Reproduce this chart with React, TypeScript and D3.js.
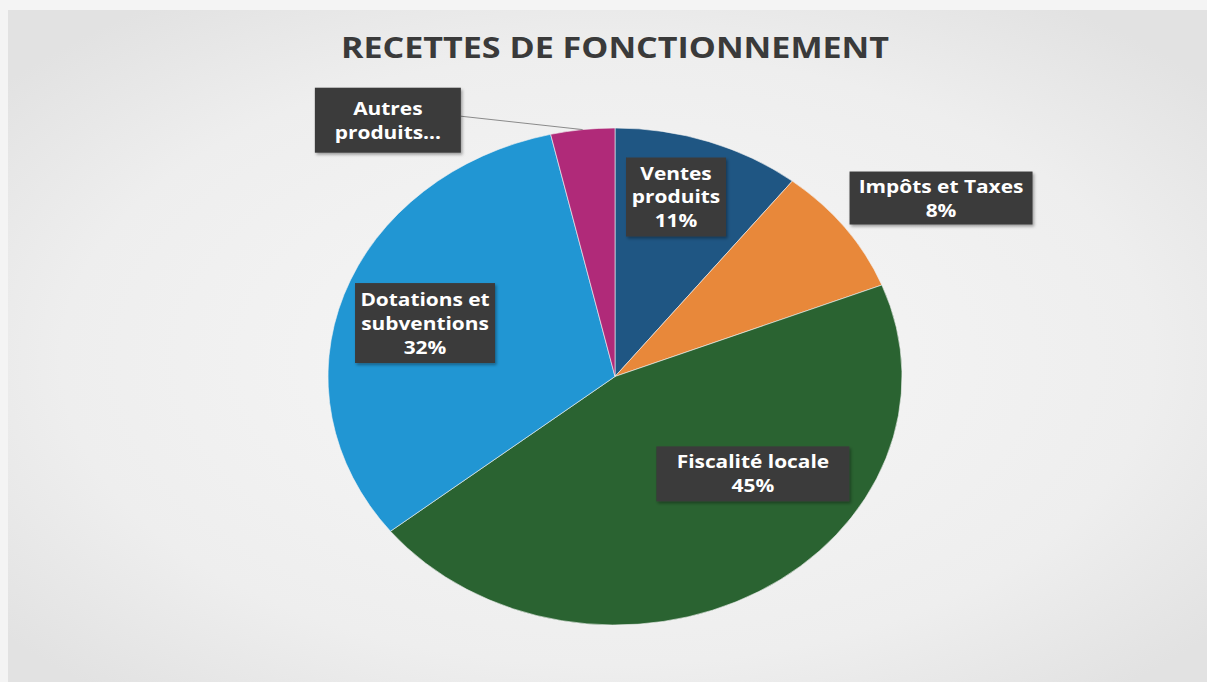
import React, { useEffect, useRef } from "react";
import * as d3 from "d3";

const categories = ["Ventes produits", "Impôts et Taxes", "Fiscalité locale", "Dotations et subventions", "Autres produits"];
const values = [10.6, 8.4, 45.3, 32.1, 3.6];
const labelNameLines = [
  ["Ventes", "produits"],
  ["Impôts et Taxes"],
  ["Fiscalité locale"],
  ["Dotations et", "subventions"],
  ["Autres", "produits..."],
];
const showPercent = [true, true, true, true, false];
const colors = ["#1f5683", "#e8883a", "#2a6331", "#2196d3", "#b02a79"];
const title = "RECETTES DE FONCTIONNEMENT";

// layout (label placement in normalized ellipse polar coords: degrees clockwise from top, radius fraction)
const labelLayout = [
  { angle: 16.4, r: 0.753, w: 100, h: 79 },
  { angle: 57.7, r: 1.344, w: 183, h: 53 },
  { angle: 129.2, r: 0.62, w: 193, h: 55 },
  { angle: 288, r: 0.696, w: 140, h: 80 },
  { angle: 322.5, r: 1.3, w: 146, h: 65, leader: true },
];

const W = 1207, H = 682;
const CX = 615, CY = 376.5, RX = 287, RY = 248.5;
const STRETCH = 1.16;

export default function App() {
  const ref = useRef<SVGSVGElement>(null);
  useEffect(() => {
    document.body.style.margin = "0";
    const svg = d3.select(ref.current);
    svg.selectAll("*").remove();
    const defs = svg.append("defs");
    const rg = defs.append("radialGradient").attr("id", "bg").attr("cx", "50%").attr("cy", "52%").attr("r", "65%");
    rg.append("stop").attr("offset", "0%").attr("stop-color", "#f7f7f7");
    rg.append("stop").attr("offset", "70%").attr("stop-color", "#eeeeee");
    rg.append("stop").attr("offset", "100%").attr("stop-color", "#e2e2e2");
    const f = defs.append("filter").attr("id", "sh").attr("x", "-20%").attr("y", "-20%").attr("width", "140%").attr("height", "150%");
    f.append("feDropShadow").attr("dx", 1.5).attr("dy", 2).attr("stdDeviation", 1.6).attr("flood-color", "#000").attr("flood-opacity", 0.35);

    svg.append("rect").attr("width", W).attr("height", H).attr("fill", "#f4f4f4");
    svg.append("rect").attr("x", 8).attr("y", 10).attr("width", W - 8).attr("height", H - 10).attr("fill", "url(#bg)");

    svg.append("text")
      .attr("x", CX).attr("y", 58)
      .attr("text-anchor", "middle")
      .attr("font-family", "'Open Sans', sans-serif")
      .attr("font-weight", 700)
      .attr("font-size", 28)
      .attr("fill", "#3a3a3a")
      .attr("textLength", 548)
      .attr("lengthAdjust", "spacingAndGlyphs")
      .text(title);

    const pie = d3.pie<number>().sort(null).value((d) => d)(values);
    const arc = d3.arc<d3.PieArcDatum<number>>().innerRadius(0).outerRadius(RY);
    const g = svg.append("g").attr("transform", `translate(${CX},${CY}) scale(${RX / RY},1)`);
    g.selectAll("path").data(pie).enter().append("path")
      .attr("d", (d) => arc(d) as string)
      .attr("fill", (_, i) => colors[i])
      .attr("stroke", "#f4f4f4")
      .attr("stroke-width", 0.6)
      .attr("vector-effect", "non-scaling-stroke");

    const toXY = (deg: number, r: number) => {
      const a = (deg * Math.PI) / 180;
      return [CX + RX * r * Math.sin(a), CY - RY * r * Math.cos(a)];
    };
    const total = d3.sum(values);

    pie.forEach((p, i) => {
      const L = labelLayout[i];
      const [lx, ly] = toXY(L.angle, L.r);
      if (L.leader) {
        const mid = (((p.startAngle + p.endAngle) / 2) * 180) / Math.PI;
        const [ex, ey] = toXY(mid, 1);
        svg.append("line")
          .attr("x1", lx + L.w / 2).attr("y1", ly - 4)
          .attr("x2", ex).attr("y2", ey)
          .attr("stroke", "#8a8a8a").attr("stroke-width", 1);
      }
      svg.append("rect")
        .attr("x", lx - L.w / 2).attr("y", ly - L.h / 2)
        .attr("width", L.w).attr("height", L.h)
        .attr("fill", "#3b3b3b")
        .attr("filter", "url(#sh)");
      const lines = [...labelNameLines[i]];
      if (showPercent[i]) lines.push(`${Math.round((values[i] / total) * 100)}%`);
      const lh = 24;
      const t = svg.append("text")
        .attr("transform", `translate(${lx},${ly}) scale(${STRETCH},1)`)
        .attr("text-anchor", "middle")
        .attr("font-family", "'Open Sans', sans-serif")
        .attr("font-weight", 700)
        .attr("font-size", 18)
        .attr("fill", "#ffffff");
      lines.forEach((s, k) => {
        t.append("tspan")
          .attr("x", 0)
          .attr("y", (k - (lines.length - 1) / 2) * lh + 6.5)
          .text(s);
      });
    });
  }, []);
  return <svg ref={ref} width={W} height={H} style={{ display: "block" }} />;
}
